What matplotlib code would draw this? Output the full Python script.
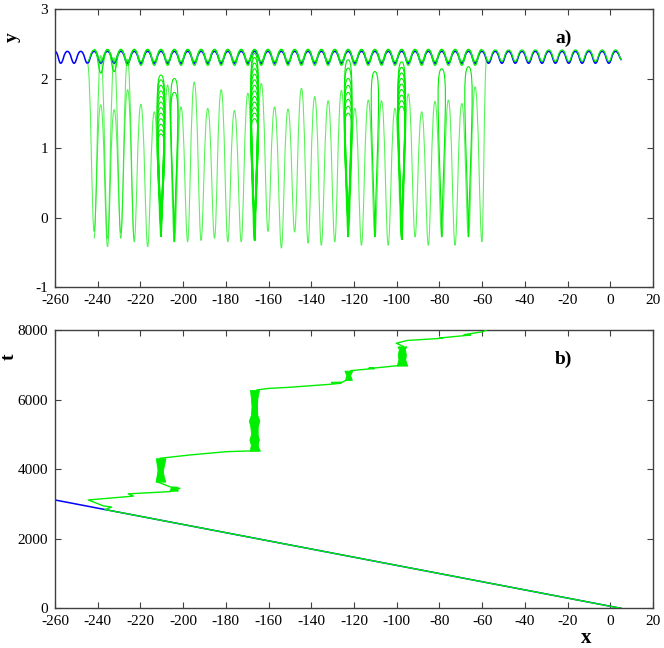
import matplotlib
matplotlib.use('Agg')
import matplotlib.pyplot as plt
from matplotlib.path import Path
from matplotlib.patches import PathPatch

# ---------------- data ----------------
# periodic top wave (panel a): x of maxima and minima
wave_peak_x = [-260.0, -254.20, -247.94, -241.68, -235.42, -229.16, -222.90, -216.64,
               -210.38, -204.12, -197.86, -191.60, -185.34, -179.08, -172.82, -166.56,
               -160.30, -154.04, -147.78, -141.52, -135.26, -129.00, -122.74, -116.48,
               -110.22, -103.96, -97.70, -91.44, -85.18, -78.92, -72.66, -66.40,
               -60.14, -53.88, -47.62, -41.36, -35.10, -28.84, -22.58, -16.32,
               -10.06, -3.80, 2.46]
wave_trough_x = [-257.33, -251.07, -244.81, -238.55, -232.29, -226.03, -219.77, -213.51,
                 -207.25, -200.99, -194.73, -188.47, -182.21, -175.95, -169.69, -163.43,
                 -157.17, -150.91, -144.65, -138.39, -132.13, -125.87, -119.61, -113.35,
                 -107.09, -100.83, -94.57, -88.31, -82.05, -75.79, -69.53, -63.27,
                 -57.01, -50.75, -44.49, -38.23, -31.97, -25.71, -19.45, -13.19,
                 -6.93, -0.67]
wave_end = (5.3, 2.27)
blue_levels = (2.39, 2.22)          # peak, trough
green_out_levels = (2.41, 2.245)
green_ret_levels = (2.42, 2.19)
green_out_range = (-244.81, 5.3)
green_ret_range = (-241.68, -60.14)
turn_x = [-238.55, -232.29]
turn_y = [2.08, 2.10]

# chain of deep dips (panel a), in order of increasing x
chain_x = [-244.81, -241.7, -238.6, -235.4, -232.3, -229.2, -226.0, -222.9, -219.8, -216.6,
           -213.5, -210.4, -207.3, -204.1, -201.0, -197.9, -194.8, -191.6, -188.5, -185.3,
           -182.2, -179.1, -176.0, -172.8, -169.7, -166.6, -163.4, -160.3, -157.2, -154.0,
           -150.9, -147.8, -144.6, -141.5, -138.4, -135.3, -132.1, -129.0, -125.9, -122.7,
           -119.6, -116.5, -113.3, -110.2, -107.1, -104.0, -100.8, -97.7, -94.6, -91.4,
           -88.3, -85.2, -82.1, -78.9, -75.8, -72.7, -69.5, -66.4, -63.3, -60.1, -57.9]
chain_y = [2.22, -0.20, 1.62, -0.42, 1.55, -0.22, 1.84, -0.35, 1.63, -0.42,
           1.52, -0.27, 1.91, -0.35, 1.59, -0.35, 1.95, -0.33, 1.57, -0.30,
           1.84, -0.35, 1.54, -0.35, 1.79, -0.33, 1.93, -0.20, 1.59, -0.44,
           1.56, -0.21, 1.86, -0.37, 1.74, -0.40, 1.68, -0.35, 1.83, -0.28,
           1.57, -0.40, 1.69, -0.28, 1.68, -0.40, 1.57, -0.32, 1.78, -0.28,
           1.52, -0.40, 1.67, -0.28, 1.69, -0.40, 1.64, -0.28, 1.88, -0.35, 2.30]

# high arches dropping from the top wave into the dip chain (panel a)
high_left = [-241.7, -235.4, -229.2]
high_right = [-235.4, -229.2, -222.9]
high_top = [2.33, 2.30, 2.28]

# trapped oscillations (panel a): site, bottom and loop tops
trap_x = [-210.38, -166.56, -122.74, -97.70, -204.12, -110.22, -78.92, -66.40]
trap_bottom = [-0.27, -0.33, -0.28, -0.32, -0.35, -0.28, -0.28, -0.28]
trap_tops = [[2.05, 1.98, 1.90, 1.82, 1.74, 1.66, 1.58, 1.50, 1.42, 1.34, 1.26, 1.20],
             [2.36, 2.30, 2.22, 2.14, 2.06, 1.98, 1.90, 1.82, 1.74, 1.66, 1.58, 1.50, 1.42],
             [2.27, 2.15, 2.00, 1.90, 1.80, 1.70, 1.60, 1.50],
             [2.24, 2.16, 2.08, 2.00, 1.92, 1.84, 1.76, 1.68, 1.60],
             [2.00, 1.80],
             [2.10],
             [2.14],
             [2.17]]

# panel b: x-t trajectories
blue_xt_x = [5.0, -260.0]
blue_xt_t = [0, 3114]
path_x = [5.0, -236.6, -233.5, -237.4, -244.4, -223.3, -225.7, -206.2, -201.5, -205.5,
          -212.4, -210.8, -196.8, -179.6, -164.8, -165.5, -160.0, -150.0, -131.0, -126.0,
          -130.5, -125.5, -123.5, -121.5, -113.0, -110.5, -113.0, -110.0, -99.3, -97.0,
          -100.2, -95.0, -80.5, -78.5, -80.0, -68.0, -65.5, -68.5, -59.5, -57.9]
path_t = [0, 2839, 2910, 2945, 3114, 3225, 3290, 3354, 3450, 3480,
          3641, 4313, 4408, 4503, 4531, 6277, 6320, 6354, 6440, 6470,
          6490, 6500, 6565, 6832, 6880, 6890, 6905, 6910, 6976, 7530,
          7620, 7700, 7755, 7762, 7770, 7840, 7855, 7865, 7953, 8000]
band_t = [[3641, 3800, 3950, 4100, 4313],
          [4531, 4700, 4850, 5000, 5200, 5400, 5550, 5800, 6050, 6277],
          [6565, 6700, 6832],
          [6976, 7150, 7300, 7450, 7530],
          [3380, 3440, 3500]]
band_left = [[-212.9, -212.3, -211.8, -212.3, -212.8],
             [-168.8, -168.3, -169.0, -168.2, -168.5, -169.2, -168.3, -168.0, -168.3, -168.7],
             [-124.2, -123.6, -124.5],
             [-100.0, -99.2, -99.5, -99.0, -99.6],
             [-206.5, -206.0, -205.5]]
band_right = [[-208.4, -209.1, -209.5, -209.0, -208.3],
              [-164.0, -165.5, -164.5, -165.3, -165.2, -164.3, -165.3, -165.5, -165.2, -164.5],
              [-121.0, -121.8, -120.8],
              [-95.1, -96.0, -95.7, -96.2, -95.5],
              [-202.5, -202.8, -203.0]]

x_ticks = list(range(-260, 21, 20))
y_ticks_a = [-1, 0, 1, 2, 3]
t_ticks = [0, 2000, 4000, 6000, 8000]

# ---------------- styling ----------------
GREEN = '#00ee00'
BLUE = '#0000ff'
SPINE = '#404040'
FONT = ['Liberation Serif', 'DejaVu Serif']
plt.rcParams['font.family'] = FONT
plt.rcParams['axes.unicode_minus'] = False


def smooth_path(xs, ys, hs):
    """Bezier path through the extrema with horizontal tangents."""
    verts = [(xs[0], ys[0])]
    codes = [Path.MOVETO]
    for i in range(len(xs) - 1):
        dx = xs[i + 1] - xs[i]
        verts += [(xs[i] + hs[i] * dx, ys[i]),
                  (xs[i + 1] - hs[i + 1] * dx, ys[i + 1]),
                  (xs[i + 1], ys[i + 1])]
        codes += [Path.CURVE4] * 3
    return Path(verts, codes)


def wave(levels, lo, hi, override=None):
    pts = [(x, levels[0], 0.55) for x in wave_peak_x] + \
          [(x, levels[1], 0.38) for x in wave_trough_x]
    pts = sorted(p for p in pts if lo - 1e-6 <= p[0] <= hi + 1e-6)
    xs = [p[0] for p in pts]
    ys = [p[1] for p in pts]
    hs = [p[2] for p in pts]
    if override:
        for ox, oy in zip(*override):
            for i, x in enumerate(xs):
                if abs(x - ox) < 1e-6:
                    ys[i] = oy
    if hi >= wave_end[0]:
        xs.append(wave_end[0]); ys.append(wave_end[1]); hs.append(0.3)
    return smooth_path(xs, ys, hs)


def loop_path(s, b, h, half):
    verts = [(s, b), (s - 0.52 * half, b + 0.55 * (h - b)), (s - 2.0 * half, h), (s, h),
             (s + 2.0 * half, h), (s + 0.52 * half, b + 0.55 * (h - b)), (s, b)]
    codes = [Path.MOVETO] + [Path.CURVE4] * 6
    return Path(verts, codes)


fig = plt.figure(figsize=(6.64, 6.48), dpi=100)
ax1 = fig.add_axes([55 / 664, 1 - 287 / 648, 598 / 664, 278 / 648])
ax2 = fig.add_axes([55 / 664, 1 - 608.3 / 648, 598 / 664, 278.3 / 648])

# ---- panel a ----
ax1.add_patch(PathPatch(wave(blue_levels, -260.0, wave_end[0]), fill=False,
                        edgecolor=BLUE, lw=1.1, zorder=2))
ax1.add_patch(PathPatch(wave(green_out_levels, *green_out_range), fill=False,
                        edgecolor=GREEN, lw=0.9, zorder=3))
ax1.add_patch(PathPatch(wave(green_ret_levels, *green_ret_range, override=(turn_x, turn_y)),
                        fill=False, edgecolor=GREEN, lw=0.9, zorder=3))
hs_chain = [0.5 if y > 1.0 else 0.33 for y in chain_y]
ax1.add_patch(PathPatch(smooth_path(chain_x, chain_y, hs_chain), fill=False,
                        edgecolor=GREEN, lw=0.8, alpha=0.65, zorder=3))
for xl, xr, top in zip(high_left, high_right, high_top):
    xs = [xl, 0.5 * (xl + xr), xr]
    ax1.add_patch(PathPatch(smooth_path(xs, [-0.3, top, -0.3], [0.33, 0.5, 0.33]),
                            fill=False, edgecolor=GREEN, lw=0.8, alpha=0.65, zorder=3))
for s, b, tops in zip(trap_x, trap_bottom, trap_tops):
    for h in tops:
        ax1.add_patch(PathPatch(loop_path(s, b, h, 1.7), fill=False,
                                edgecolor=GREEN, lw=0.8, zorder=3))

ax1.set_xlim(-260, 20)
ax1.set_ylim(-1, 3)
ax1.set_xticks(x_ticks)
ax1.set_yticks(y_ticks_a)
ax1.text(-22, 2.58, 'a)', fontsize=14, fontweight='bold', ha='center', va='center')
ax1.text(-0.072, 0.90, 'y', transform=ax1.transAxes, fontsize=14, fontweight='bold',
         rotation=90, ha='center', va='center')

# ---- panel b ----
ax2.plot(blue_xt_x, blue_xt_t, color=BLUE, lw=1.1, zorder=2)
ax2.plot(path_x, path_t, color=GREEN, lw=1.0, zorder=3)
for bt, bl, br in zip(band_t, band_left, band_right):
    ax2.fill_betweenx(bt, bl, br, color=GREEN, lw=0.6, zorder=3)
ax2.set_xlim(-260, 20)
ax2.set_ylim(0, 8000)
ax2.set_xticks(x_ticks)
ax2.set_yticks(t_ticks)
ax2.text(-22, 7159, 'b)', fontsize=14, fontweight='bold', ha='center', va='center')
ax2.text(-0.076, 0.903, 't', transform=ax2.transAxes, fontsize=14, fontweight='bold',
         rotation=90, ha='center', va='center')
ax2.text(0.889, -0.107, 'x', transform=ax2.transAxes, fontsize=15, fontweight='bold',
         ha='center', va='center')

for ax in (ax1, ax2):
    for sp in ax.spines.values():
        sp.set_color(SPINE)
        sp.set_linewidth(1.0)
    ax.tick_params(direction='in', length=4, width=0.8, color=SPINE, top=True, right=True,
                   labelsize=11, pad=5)
    for lab in ax.get_xticklabels() + ax.get_yticklabels():
        lab.set_family(FONT)

fig.savefig('out.png', dpi=100)
